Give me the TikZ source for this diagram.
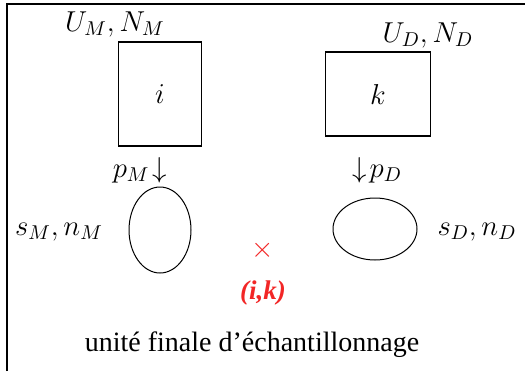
\documentclass[tikz,border=0pt]{standalone}
\usepackage{fontspec}
\setmainfont{Liberation Serif}
\usepackage{xcolor}
\usetikzlibrary{shapes.geometric,positioning}
\definecolor{markred}{rgb}{0.95,0.15,0.15}

\begin{document}
\begin{tikzpicture}[x=0.5pt,y=-0.5pt,font=\fontsize{14}{17}\selectfont]
            \useasboundingbox (0,0) rectangle (525,371);
            % frame
            \draw[line width=1pt] (7,371) -- (7,4) -- (525,4);
            
            % first stage unit
            \node[draw,rectangle,line width=0.75pt,minimum width=41.5pt,minimum height=52pt] (boxi) at (160,94) {$i$};
            \node at (115,24) (um) {$U_M, N_M$};
            \node at (140,170) (pm) {$p_M\!\downarrow$};
            \node[draw,ellipse,line width=0.5pt,minimum width=31pt,minimum height=43pt,inner sep=0pt] (elm) at (160,230) {};
            \node at (59,232) (sm) {$s_M, n_M$};
            
            % second stage unit
            \node[draw,rectangle,line width=0.75pt,minimum width=52.5pt,minimum height=42pt] (boxk) at (378,94) {$k$};
            \node at (428,35) (ud) {$U_D, N_D$};
            \node at (377,170) (pd) {$\downarrow\! p_D$};
            \node[draw,ellipse,line width=0.5pt,minimum width=42pt,minimum height=31pt,inner sep=0pt] (eld) at (375,229) {};
            \node at (477,232) (sd) {$s_D, n_D$};
            
            % final unit
            \node[markred] at (263,250) (cross) {$\times$};
            \node[markred,font=\fontsize{13.5}{16}\selectfont] at (263,293) (ik) {\bfseries\itshape (i,k)};
            \node at (252,345) (ufe) {unité finale d’échantillonnage};
        \end{tikzpicture}
\end{document}
